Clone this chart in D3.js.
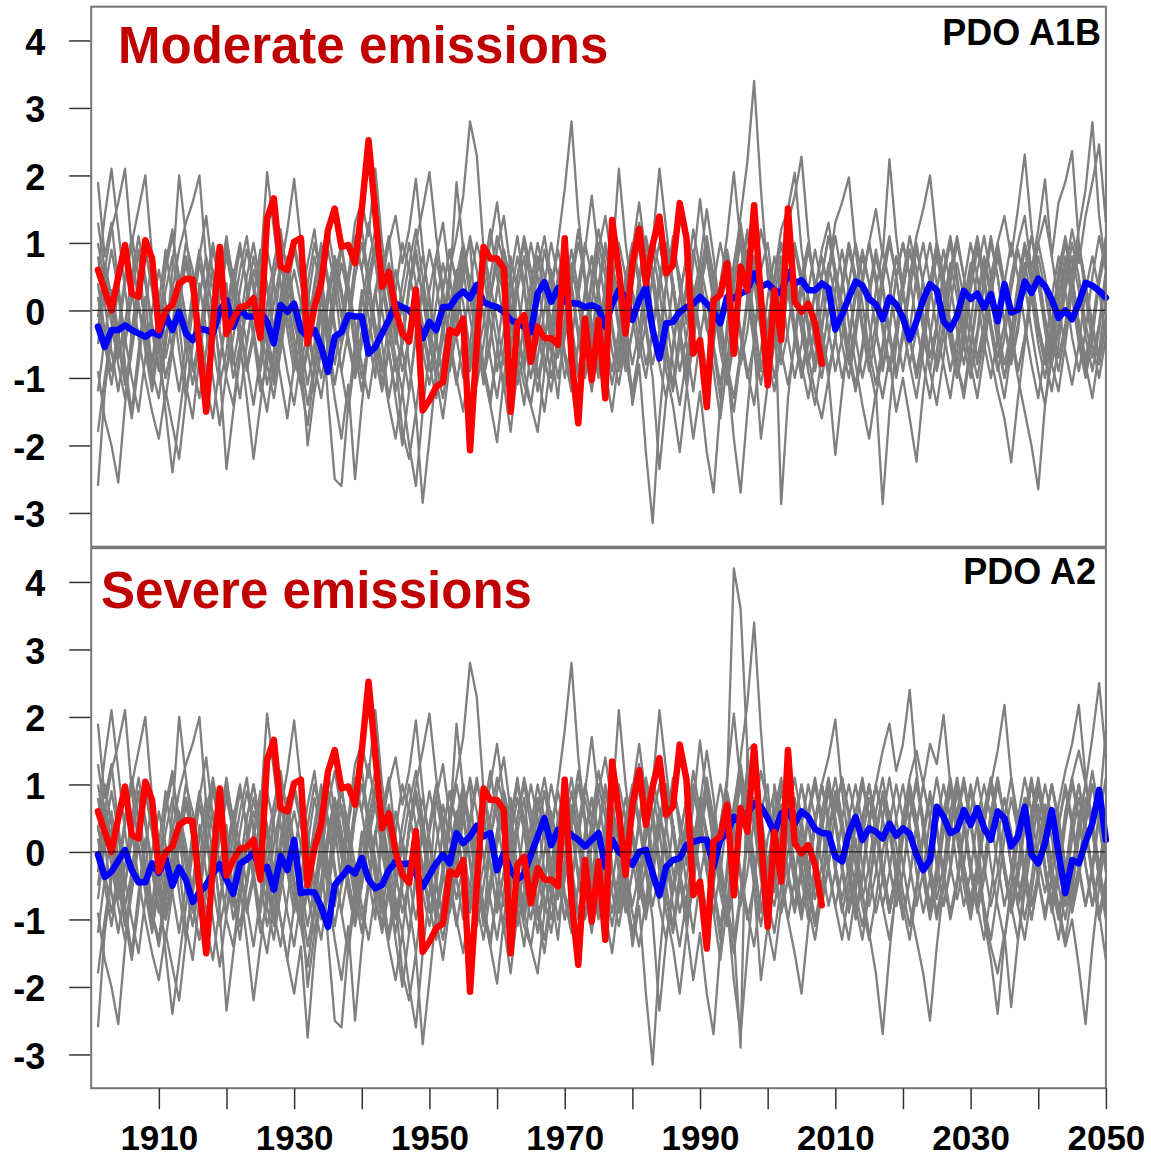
<!DOCTYPE html>
<html><head><meta charset="utf-8">
<script src="https://cdn.jsdelivr.net/npm/d3@7"></script>
<style>body{margin:0;background:#fff}svg text{font-family:"Liberation Sans",Arial,sans-serif;font-weight:bold}</style>
</head><body><svg id="c" width="1151" height="1158"></svg>
<script>
// ---------- DATA ----------
const firstYear = 1901;
const xTicks = [1910,1920,1930,1940,1950,1960,1970,1980,1990,2000,2010,2020,2030,2040,2050];
const xTickLabels = ["1910","","1930","","1950","","1970","","1990","","2010","","2030","","2050"];
const yTicks = [-3,-2,-1,0,1,2,3,4];

// observed PDO index, 1901-2008 (red)
const observedPDO = [
 0.60,0.30,0.0,0.5,0.97,0.25,0.2,1.04,0.77,-0.29,
 0.0,0.08,0.4,0.47,0.46,-0.54,-1.50,-0.2,0.94,-0.35,
 -0.12,0.05,0.07,0.18,-0.41,1.36,1.66,0.65,0.6,1.02,
 1.07,-0.49,0.05,0.4,1.19,1.51,0.94,0.97,0.70,1.5,
 2.52,1.44,0.35,0.57,0.0,-0.34,-0.46,0.31,-1.48,-1.33,
 -1.13,-1.06,-0.29,-0.34,-0.12,-2.07,-0.5,0.94,0.77,0.77,
 0.62,-1.50,-0.19,-0.07,-0.76,-0.24,-0.41,-0.41,-0.51,1.07,
 -0.7,-1.67,-0.12,-1.03,-0.14,-1.30,1.34,0.6,-0.34,0.7,
 1.21,0.4,0.97,1.39,0.55,0.67,1.59,1.07,-0.64,-0.44,
 -1.43,0.15,0.23,0.7,-0.64,0.65,0.3,1.56,0.2,-1.11,
 0.3,-0.44,1.51,0.13,-0.02,0.1,-0.19,-0.79];

// ensemble means 1901-2050 (blue)
const meanA1B = [
 -0.24,-0.54,-0.29,-0.29,-0.22,-0.29,-0.34,-0.39,-0.32,-0.37,
 -0.07,-0.29,-0.02,-0.34,-0.44,-0.27,-0.29,-0.34,0.0,0.15,
 -0.24,0.03,-0.09,-0.09,-0.02,-0.17,-0.49,0.08,-0.02,0.1,
 -0.29,-0.39,-0.29,-0.54,-0.91,-0.39,-0.32,-0.07,-0.09,-0.09,
 -0.64,-0.54,-0.34,-0.14,0.1,0.05,0.0,-0.12,-0.41,-0.17,
 -0.29,0.05,0.05,0.2,0.28,0.18,0.38,0.12,0.08,0.05,
 -0.02,-0.14,-0.19,-0.24,-0.32,0.25,0.42,0.13,0.33,0.13,
 0.11,0.1,0.05,0.08,0.03,-0.24,0.1,0.3,0.2,-0.14,
 0.15,0.35,-0.29,-0.71,-0.19,-0.17,-0.02,0.05,0.1,0.2,
 0.1,-0.02,-0.19,0.2,0.18,0.25,0.3,0.55,0.35,0.4,
 0.3,0.25,0.57,0.4,0.45,0.3,0.3,0.4,0.33,-0.28,
 -0.06,0.19,0.43,0.37,0.17,0.09,-0.13,0.19,0.09,-0.11,
 -0.43,-0.16,0.16,0.39,0.30,-0.16,-0.28,-0.08,0.29,0.17,
 0.25,0.04,0.24,-0.16,0.39,-0.03,0.01,0.43,0.26,0.47,
 0.36,0.16,-0.11,0.0,-0.13,0.11,0.41,0.37,0.29,0.19];
const meanA2 = [
 -0.04,-0.37,-0.29,-0.13,0.03,-0.27,-0.45,-0.45,-0.17,-0.31,
 -0.11,-0.50,-0.23,-0.41,-0.74,-0.60,-0.49,-0.32,-0.18,-0.41,
 -0.62,-0.17,-0.11,-0.01,-0.27,-0.22,-0.56,-0.06,-0.27,0.18,
 -0.61,-0.59,-0.60,-0.81,-1.11,-0.49,-0.37,-0.24,-0.32,-0.09,
 -0.41,-0.54,-0.49,-0.27,-0.14,-0.18,-0.17,-0.32,-0.52,-0.34,
 -0.17,-0.04,-0.17,0.28,0.13,0.23,0.39,0.23,0.28,-0.27,
 -0.02,-0.27,-0.41,-0.32,-0.04,0.23,0.50,0.10,0.33,0.34,
 0.25,0.18,0.08,0.18,0.28,-0.22,0.18,0.0,-0.08,-0.19,
 0.0,0.03,-0.32,-0.64,-0.22,-0.12,-0.09,0.10,0.15,0.18,
 0.18,-0.22,0.18,0.28,0.52,0.43,0.57,0.72,0.67,0.50,
 0.28,0.57,0.61,0.42,0.60,0.52,0.34,0.28,0.27,-0.07,
 -0.14,0.28,0.52,0.18,0.35,0.30,0.20,0.42,0.24,0.35,
 0.27,-0.04,-0.27,-0.12,0.67,0.52,0.28,0.33,0.62,0.40,
 0.65,0.35,0.18,0.60,0.50,0.08,0.23,0.67,-0.04,-0.17,
 0.13,0.62,-0.02,-0.61,-0.12,-0.17,0.15,0.42,0.92,0.18];

// model runs, 20th century part 1901-2000 (gray)
const histRuns = [
 [-2.6,-1.2,-0.4,0.3,-0.8,-1.5,-0.6,0.2,-0.9,-1.3, -0.5,0.4,-0.2,-1.1,-1.6,-0.7,0.1,0.6,-0.3,-1.0, -1.4,-0.6,0.2,-0.4,-1.2,-0.8,0.5,0.9,-0.1,-0.7, -1.1,-1.7,-0.9,0.0,-1.3,-2.5,-2.6,-1.4,-0.5,0.3, -0.4,-1.0,0.6,1.1,0.2,-0.6,-1.2,-0.3,0.4,-0.5, 0.8,1.3,0.5,-0.2,0.7,1.0,-0.4,-1.1,0.2,0.9, 1.4,0.6,-0.3,-0.9,0.1,0.8,0.3,-0.6,-1.3,-0.2, 0.5,1.2,0.4,-0.5,-1.0,0.3,1.1,0.6,-0.2,-1.4, -0.8,-2.1,-3.15,-1.6,-0.5,0.4,-0.3,-1.0,0.2,0.7, 1.5,0.8,-0.1,-0.8,0.3,1.2,0.5,-0.4,0.6,1.0],
 [1.9,0.8,1.3,0.4,-0.5,0.2,0.9,-0.3,-1.1,-0.4, 0.7,1.2,0.3,-0.6,0.1,0.8,1.4,0.5,-0.2,0.4, -0.7,-1.3,-0.5,0.2,0.9,0.3,-0.4,-1.0,-1.6,-0.8, 0.1,0.7,1.2,0.4,-0.3,0.5,1.0,0.2,-0.6,-1.2, -0.4,0.3,-0.5,-1.3,-0.7,-1.8,-2.2,-1.5,-2.85,-1.9, -0.9,-0.2,0.6,1.1,1.7,2.8,2.3,0.9,0.1,-0.5, -1.2,-0.6,0.3,0.8,-0.1,-0.9,-1.5,-0.7,0.2,0.6, -0.3,-1.0,-0.4,0.5,1.2,0.7,-0.2,-0.8,0.1,0.9, 1.6,0.8,-0.1,-0.7,0.4,1.1,0.3,-0.5,-1.2,-0.4, 0.2,-0.6,-1.3,-0.2,0.7,1.3,0.6,-0.1,-0.9,-0.3],
 [-0.9,-1.6,-2.0,-2.55,-1.4,-0.3,0.5,-0.2,-0.8,0.1, 0.9,0.2,-0.6,-1.3,-0.5,0.4,-0.3,-1.0,-1.7,-0.9, 0.0,0.6,1.1,0.3,-0.4,-1.1,-0.6,0.2,0.8,0.1, -0.7,-1.4,-0.8,0.3,0.9,0.4,-0.5,-0.1,0.7,1.2, 0.5,-0.3,-0.9,-0.2,0.6,0.1,-0.8,-1.5,-0.6,0.3, 0.8,0.2,-0.5,-1.1,-0.4,0.4,1.0,0.6,-0.2,-0.9, -0.3,0.5,1.1,0.4,-0.6,-1.2,-0.5,0.3,1.0,1.8, 2.8,1.4,0.5,-0.3,-0.9,-0.2,0.6,0.1,-0.7,-1.3, -0.6,0.2,0.9,0.3,-0.5,-1.1,-0.3,0.4,1.2,0.6, -0.2,-0.9,-1.6,-0.8,-1.9,-2.7,-1.5,-0.4,0.3,-0.6],
 [0.5,1.4,2.1,1.2,0.3,-0.4,0.2,0.9,0.4,-0.3, -1.0,-0.5,0.3,1.0,0.6,-0.2,-0.9,-0.4,0.5,1.1, 0.4,-0.3,-0.8,-1.4,-0.7,0.1,0.7,1.2,0.5,-0.2, -0.6,0.1,0.8,0.3,-0.4,-1.1,-0.5,0.4,1.0,0.6, 1.3,0.7,0.0,-0.6,-1.2,-0.5,0.3,0.9,0.2,-0.4, -1.0,-1.6,-0.8,0.1,0.6,-0.1,-0.7,-0.2,0.5,1.1, 0.7,-0.1,-0.8,-1.4,-0.6,0.2,0.9,0.4,-0.3,-1.0, -0.5,0.4,1.0,0.5,-0.2,-0.9,-1.5,-0.7,0.1,0.8, 1.3,0.6,-0.2,0.3,1.0,0.4,-0.4,-1.1,-1.9,-1.2, -2.1,-2.7,-1.4,-0.3,0.6,1.4,2.2,3.4,1.8,0.5],
 [-0.3,0.6,1.2,1.6,2.1,0.9,0.1,-0.6,-1.2,-0.5, -1.5,-2.4,-1.6,-0.8,0.0,0.7,0.2,-0.5,-1.1,-0.6, 0.3,0.9,0.4,-0.3,-0.9,-0.2,0.5,1.1,0.6,0.0, -0.8,-0.3,0.4,1.0,0.5,-0.2,-0.9,-1.5,-0.7,0.1, 0.7,1.2,0.5,-0.1,-0.7,-1.2,-0.4,0.3,0.8,0.2, -0.4,-1.0,-0.3,0.5,1.0,0.4,-0.3,-0.9,-1.4,-0.6, 0.2,0.8,0.3,-0.5,-1.0,-0.4,0.4,1.0,0.5,-0.1, -0.7,-1.3,-0.6,0.1,0.9,1.4,0.7,2.1,1.0,0.2, -0.5,-1.0,-0.3,0.4,0.9,0.3,-0.4,-1.1,-0.5,0.3, 0.8,0.2,-0.4,-1.0,-0.3,0.5,1.1,0.6,-0.1,-0.7],
 [0.2,-0.5,-1.1,-0.4,0.4,1.0,1.5,2.0,0.8,-0.1, -0.7,-0.2,0.5,-0.1,-0.8,-1.3,-0.6,0.2,-0.9,-2.35, -1.5,-0.7,0.1,0.6,0.2,-0.5,-1.0,-0.4,0.3,0.9, 0.4,-0.3,-0.9,-0.4,0.3,0.8,0.3,-0.4,-1.0,-0.5, 0.2,-0.4,-1.1,-0.5,0.3,1.0,0.6,0.0,-0.6,-1.1, -0.5,0.3,0.9,0.4,-0.3,-0.8,-0.2,0.6,1.2,0.5, -0.2,-0.9,-0.4,0.4,1.0,0.5,-0.3,-1.0,-0.5,0.3, 0.9,0.3,-0.4,-1.1,-0.6,0.1,0.7,0.2,-0.5,-1.2, -0.6,0.3,1.0,2.1,1.2,0.4,-0.3,-0.8,-0.2,0.5, 1.1,0.5,-0.2,-0.9,-1.5,-0.7,0.1,0.8,0.3,-0.4],
 [-1.2,-0.4,0.3,-0.3,-1.0,-1.6,-0.8,0.1,0.7,0.2, -0.5,0.6,2.0,1.1,0.3,-0.4,-1.0,-0.5,0.2,0.8, 0.3,-0.5,-1.3,-2.2,-1.4,-0.6,0.1,0.7,0.2,-0.4, -1.0,-0.5,0.3,0.9,0.4,-0.3,-0.9,-0.3,0.5,1.0, 0.4,-0.2,-0.8,-1.4,-1.9,-1.2,-2.0,-2.6,-1.5,-0.6, 0.1,0.7,0.2,-0.4,-1.0,-0.5,0.3,0.9,0.4,-0.2, -0.8,-0.3,0.5,1.1,0.6,-0.1,-0.7,-1.2,-0.5,0.2, 0.7,0.1,-0.6,-1.2,-0.4,0.4,1.0,0.5,-0.2,-0.8, -0.3,0.5,1.1,0.6,-0.1,-0.8,-1.4,-0.7,0.0,0.7, 0.2,-0.5,-1.1,-0.4,0.4,1.0,0.4,-0.3,-0.9,-0.2],
 [0.8,0.1,-0.6,-1.2,-0.5,0.3,0.9,0.4,-0.3,-0.9, -0.4,0.3,0.9,1.3,1.6,2.0,0.7,-0.1,-0.7,-0.2, 0.5,1.0,0.3,-0.4,-1.0,-1.5,-0.7,0.0,0.6,0.1, -0.5,-1.1,-0.5,0.2,-0.6,-1.3,-1.9,-1.1,-2.5,-1.4, -0.5,0.3,0.8,0.2,-0.5,0.1,0.7,1.2,0.5,-0.2, -0.8,-1.3,-0.6,0.2,0.8,0.3,-0.4,-1.0,-0.5,0.3, 0.9,0.4,-0.3,-0.8,-0.2,0.6,1.1,0.5,-0.2,-0.7, -1.2,-0.5,0.3,0.8,0.2,-0.5,-1.1,-0.5,0.3,0.9, 0.4,-0.3,-1.0,-2.35,-1.3,-0.5,0.2,0.8,0.3,-0.4, -1.0,-0.4,0.3,0.9,0.4,-0.3,-0.9,-1.4,-0.6,0.2],
 [-0.5,0.3,0.9,0.3,-0.4,-1.0,-1.5,-0.7,0.0,0.6, 0.1,-0.6,-1.2,-0.5,0.3,0.9,0.3,-0.3,0.4,1.0, 0.5,-0.2,-0.8,-0.3,0.6,2.05,1.2,0.4,-0.3,-0.9, -0.4,0.4,1.0,0.5,-0.2,-0.8,-0.2,0.5,1.1,0.6, -0.1,-0.7,-1.2,-0.6,-1.3,-2.0,-1.2,-0.4,0.3,0.9, 0.4,-0.3,-0.9,-0.3,0.5,1.1,0.6,-0.1,-0.7,-1.3, -0.6,0.2,0.8,0.3,-0.4,-1.0,-0.5,0.3,0.9,0.4, -0.2,-0.9,-0.4,0.4,1.0,0.5,-0.3,-0.9,-0.4,0.4, 1.0,0.5,-0.2,-0.8,-1.3,-0.6,0.2,0.8,0.3,-0.3, -0.9,-0.4,0.4,1.1,2.05,1.0,0.2,-0.5,-1.1,-0.5],
 [1.3,0.6,0.0,-0.7,-0.2,0.5,1.1,0.5,-0.2,-0.8, -1.3,-0.6,0.1,0.7,0.2,-0.5,-1.1,-1.6,-0.8,0.0, 0.6,0.1,-0.5,0.2,0.8,0.4,-0.3,0.6,1.2,1.95, 1.0,0.3,-0.4,-1.0,-0.5,0.3,0.9,0.4,-0.2,-0.8, -1.3,-0.6,0.1,0.7,0.2,-0.5,0.4,1.0,1.5,2.05, 1.1,0.3,-0.4,-1.0,-1.5,-0.7,-0.1,-0.8,-1.4,-1.95, -1.0,-0.2,0.5,1.0,0.4,-0.3,-0.9,-0.4,0.3,0.8, 0.3,-0.4,-1.0,-0.5,0.3,0.9,0.4,-0.3,-0.9,-0.3, 0.5,1.1,0.6,-0.1,-0.7,-1.2,-0.5,0.3,0.9,0.4, -0.3,0.4,1.0,0.5,-0.2,-0.8,-0.3,0.5,1.2,0.7],
 [-1.8,-1.0,-0.3,0.4,0.9,0.3,-0.4,-1.0,-1.5,-1.9, -1.2,-1.7,-2.2,-1.3,-0.5,0.2,0.8,0.3,-0.3,-0.9, -0.4,0.3,0.9,0.4,-0.2,-0.8,-1.3,-0.6,0.1,-0.5, -1.1,-0.6,0.1,0.7,1.2,0.6,-0.1,0.5,1.3,1.6, 1.1,2.1,1.0,0.3,-0.3,-0.9,-0.4,0.4,-0.2,-0.8, -1.3,-0.7,0.0,0.6,0.1,-0.6,-1.1,-0.5,0.2,0.7, 0.2,-0.5,-1.1,-0.6,0.2,0.8,0.3,-0.4,-1.0,-0.4, 0.4,1.0,0.5,-0.2,-0.8,-0.3,0.4,1.0,0.5,-0.1, -0.7,-0.2,0.5,1.0,0.4,-0.3,-0.9,-0.4,0.3,-0.4, -1.0,-0.5,0.3,0.8,0.3,-0.4,-1.0,-0.5,-1.9,-1.1],
 [0.4,-0.3,-0.9,-0.3,0.5,1.1,0.5,-0.2,-0.8,-0.2, 0.6,1.1,0.5,-0.2,-0.9,-0.4,0.4,1.0,0.4,-0.3, -1.0,-0.5,0.2,0.8,0.2,-0.5,-1.1,-0.6,0.1,0.6, 0.1,-0.6,-1.2,-0.6,0.1,0.7,0.2,-0.5,-1.0,-0.4, 0.3,0.9,0.4,1.0,1.4,0.7,1.2,1.95,0.9,0.1, -0.5,-1.0,-0.4,0.3,0.9,0.4,-0.3,-0.8,-1.3,-0.6, -1.1,-1.8,-0.9,-0.2,0.4,1.0,0.5,-0.2,-0.7,-0.1, 0.6,0.2,0.9,1.7,0.8,0.1,-0.6,-1.1,-0.5,0.3, -0.2,-0.8,-0.3,0.5,1.0,0.4,-0.3,-0.9,-0.4,0.4, 1.0,0.5,-0.2,-0.8,-1.3,-0.6,0.2,0.8,0.3,-0.3],
 [-0.1,0.7,0.2,-0.5,-1.1,-0.5,0.3,0.9,0.3,-0.4, -1.0,-0.5,0.2,0.8,0.3,-0.4,-1.0,-0.4,0.3,0.9, 0.4,-0.3,-0.9,-0.4,0.3,0.9,0.4,-0.3,-0.9,-1.4, -0.7,-2.0,-1.2,-0.5,0.2,0.8,0.3,-0.4,-0.9,-0.3, 0.5,1.0,0.4,-0.3,-0.9,-0.4,0.3,0.8,0.2,-0.5, -1.0,-0.4,0.4,1.9,0.9,0.2,-0.5,-1.0,-0.4,0.3, 0.9,0.4,-0.3,-0.9,-1.4,-0.7,0.0,0.6,0.1,-0.6, -1.1,-0.5,0.2,0.8,0.3,-0.4,-0.9,-0.3,0.5,1.0, 0.5,-0.2,-0.8,-0.3,0.4,1.0,0.5,-0.2,0.7,1.65, 0.8,0.1,-0.6,-1.1,-0.5,0.3,0.9,0.4,-0.3,-0.9],
 [1.0,0.4,-0.2,-0.8,-1.3,-0.6,0.1,-0.5,-1.0,-0.4, 0.3,0.8,0.2,-0.5,-1.1,-0.5,0.3,0.9,0.4,-0.3, -0.8,-0.2,0.5,1.0,0.4,-0.3,-0.9,-0.3,0.4,1.0, 0.5,-0.2,-0.8,-1.3,-0.6,0.1,0.7,0.2,-0.4,-1.0, -0.5,0.2,0.8,0.3,-0.3,0.4,1.0,0.4,-0.3,-0.9, -0.4,0.3,0.9,0.4,-0.3,-0.9,-0.3,0.5,1.0,1.6, 0.8,0.1,-0.6,-1.1,-1.4,-1.8,-0.9,-0.2,0.5,1.0, 0.4,-0.3,-0.9,-0.4,0.4,1.0,0.5,-0.2,-0.8,-0.3, 0.4,1.0,0.4,-0.3,-0.9,-1.4,-2.1,-1.2,-0.4,0.3, 0.9,0.4,-0.3,-0.8,-0.2,0.6,1.2,0.6,-0.1,-0.7]
];
// two extra 20th-century runs only in the A2 ensemble
const a2ExtraHist = [
 [-0.7,0.1,0.6,-0.1,-0.8,-0.3,0.5,1.0,0.3,-0.4, -0.9,-0.3,0.4,-0.2,-0.8,-1.3,-0.6,0.2,0.7,0.1, -0.6,-1.1,-0.4,0.3,0.8,0.2,-0.5,-1.0,-1.6,-2.1, -1.4,-2.75,-1.5,-0.6,0.1,0.6,0.1,-0.6,-1.1,-0.5, 0.2,0.7,0.2,-0.5,-1.0,-0.4,0.3,0.9,0.4,-0.3, -0.8,-0.3,0.4,1.0,0.5,-0.2,-0.8,-1.3,-0.6,0.1, 0.7,0.2,-0.5,-1.0,-0.4,0.3,0.9,0.3,-0.4,-1.0, -0.5,0.3,0.8,0.3,-0.4,-1.0,-0.5,0.2,0.8,0.3, -0.3,-0.9,-0.4,0.4,0.9,0.3,-0.4,-0.9,0.1,0.8, 0.3,-0.3,0.4,1.0,4.2,3.6,1.5,0.4,-0.4,-1.0],
 [0.3,1.0,0.4,-0.3,0.5,1.1,0.4,-0.3,-0.9,-1.4, -0.7,0.0,0.6,0.1,-0.6,-0.1,0.6,1.1,0.5,-0.2, -0.7,-0.2,0.5,1.0,0.4,-0.3,-0.9,-1.4,-0.7,0.0, 0.6,0.1,-0.6,-0.1,0.7,1.2,0.6,-0.1,-0.7,-0.2, 0.5,-0.1,-0.7,-1.2,-0.5,0.2,-0.4,-1.0,-0.4,0.4, 1.0,0.5,-0.2,-0.7,-0.2,0.5,1.1,0.5,-0.2,-0.8, -0.3,0.4,1.0,0.5,-0.2,-0.8,-1.3,-0.6,0.1,0.6, 1.1,0.5,-0.2,-0.8,-0.3,0.4,1.0,0.4,-0.3,-0.9, -1.4,-0.7,0.0,0.6,0.1,-0.6,-0.1,0.5,1.0,0.4, -0.3,-0.9,-0.3,0.5,-1.2,-2.9,1.5,1.6,0.6,-0.2]
];
// scenario continuations 2001-2050
const futA1B = [
 [0.2,-2.87,-1.3,-0.4,0.5,1.0,0.4,-0.3,-0.9,-0.4, 0.4,1.0,0.5,-0.2,-0.8,-1.3,-0.6,0.2,0.8,0.3, -0.4,-1.0,-0.5,0.3,0.9,0.4,-0.3,-0.8,-0.2,0.6, 1.1,0.5,-0.2,-0.7,-0.2,0.5,1.0,1.4,0.6,1.2, 1.94,0.8,0.1,-0.6,-1.1,-0.5,0.3,0.8,0.3,-0.4],
 [0.5,1.2,1.5,2.04,0.9,0.2,-0.5,-1.0,-0.4,0.3, 0.9,0.3,-0.4,-1.0,-0.5,0.3,0.9,0.4,-0.3,-0.9, -0.3,0.5,1.0,0.4,-0.3,-0.8,-1.3,-0.6,0.1,0.7, 0.2,-0.5,-1.0,-0.4,0.4,1.0,0.5,-0.2,-0.8,-1.3, -0.6,0.2,0.8,0.3,-0.4,-0.9,-0.3,0.5,1.1,0.6],
 [-0.1,0.6,1.3,1.7,2.28,1.1,0.3,-0.4,-1.0,-0.4, 0.3,0.9,0.4,-0.3,-0.9,-0.4,0.4,1.0,0.5,-0.2, -0.8,-1.3,-0.6,0.2,0.8,0.3,-0.4,-1.0,-0.5,0.3, 0.9,0.4,-0.3,-0.9,-0.4,0.3,0.9,0.4,-0.3,-0.9, -1.4,-0.7,0.1,0.7,0.2,-0.5,-1.0,-0.4,0.4,0.9],
 [-0.2,-0.8,-0.3,0.5,0.0,-0.7,-1.2,-1.6,-1.0,-2.14, -1.2,-0.4,0.3,0.9,0.4,-0.3,-0.9,-0.3,0.5,1.0, 0.5,-0.2,-0.8,-1.3,-0.6,0.1,0.7,0.2,-0.5,-1.0, -0.4,0.4,1.0,0.5,-0.2,-0.8,-0.3,0.5,1.1,0.6, -0.1,-0.7,-0.2,0.6,1.2,0.7,1.4,1.9,2.46,1.3],
 [-1.2,-0.5,0.3,0.9,0.4,-0.3,-0.9,-0.3,0.6,1.3, 1.6,1.97,0.9,0.1,-0.6,-1.1,-0.5,0.2,0.8,0.3, -0.4,-1.0,-0.4,0.4,1.0,0.5,-0.2,-0.8,-1.2,-0.5, 0.2,0.8,0.3,-0.4,-1.0,-0.5,0.3,0.9,0.4,-0.3, -0.8,-0.3,0.5,1.0,0.5,-0.2,-0.8,-0.3,0.4,1.0],
 [-1.0,-0.4,0.4,1.0,0.5,-0.2,-0.8,-0.3,0.5,1.1, 0.5,-0.2,-0.8,-1.4,-1.9,-1.2,-2.87,-1.5,-0.5,0.3, 0.9,0.4,-0.3,-0.9,-0.3,0.5,1.0,0.4,-0.3,-0.8, -0.3,0.5,1.1,0.5,-0.2,-0.7,-0.2,0.6,1.1,0.5, -0.2,-0.8,-1.2,-0.5,0.3,0.9,0.4,-0.3,-0.8,-0.2],
 [0.5,1.0,0.4,-0.3,-0.9,-0.4,0.3,0.9,1.3,0.6, -0.1,-0.7,-0.2,0.5,1.0,1.5,0.8,2.24,1.1,0.3, -0.4,-0.9,-0.3,0.4,1.0,0.5,-0.2,-0.8,-1.3,-0.6, 0.1,0.7,0.2,-0.5,-1.0,-0.4,0.4,1.0,0.5,-0.2, -0.7,-0.2,0.6,1.1,0.5,-0.2,-0.7,-0.2,0.5,1.1],
 [0.8,0.3,-0.4,-1.0,-0.5,0.3,0.9,0.4,-0.3,-0.9, -0.4,0.4,1.0,0.5,-0.2,-0.8,-1.3,-0.7,-1.5,-1.0, -1.6,-2.24,-1.2,-0.4,0.3,0.9,0.4,-0.3,-0.8,-0.2, 0.6,1.1,0.5,-0.2,-0.8,-0.3,0.4,1.0,0.5,-0.2, -0.7,-1.2,-0.5,0.3,0.8,0.3,-0.4,-0.9,-0.3,0.5],
 [0.2,0.8,0.3,-0.4,-1.0,-0.5,0.3,0.8,0.3,-0.4, -1.0,-0.5,0.2,0.8,0.4,-0.3,-0.8,-0.3,0.5,1.0, 0.5,1.1,1.5,2.0,1.0,0.2,-0.5,-1.0,-0.4,0.4, 1.0,0.5,-0.2,-0.8,-1.3,-0.6,0.1,0.7,0.2,-0.5, -1.0,-0.4,0.4,1.0,0.5,-0.2,-0.8,-1.3,-0.6,0.2],
 [0.1,-0.6,-1.1,-0.5,0.3,0.9,0.4,-0.3,-0.9,-0.4, 0.4,1.0,0.5,-0.2,-0.7,-0.2,0.6,1.1,0.5,-0.2, -0.8,-0.3,0.5,1.0,0.4,-0.3,-0.9,-0.4,0.4,1.0, 0.5,-0.2,-0.7,-1.2,-1.6,-2.25,-1.3,-0.5,0.2,0.8, 0.3,-0.4,-0.9,-0.3,0.5,1.0,0.4,-0.2,-0.7,-0.1],
 [-0.5,0.3,0.9,0.4,-0.3,-0.8,-0.2,0.5,1.1,0.6, -0.1,-0.7,-1.2,-0.6,0.2,0.8,0.3,-0.4,-1.0,-0.4, 0.3,0.9,0.4,-0.3,-0.9,-0.4,0.4,1.0,0.5,-0.2, -0.7,-0.2,0.5,1.0,1.4,0.8,1.5,2.31,1.2,0.4, -0.3,-0.8,-0.3,0.4,1.0,0.5,-0.2,-0.7,-0.2,0.6],
 [0.4,1.0,0.5,-0.2,-0.8,-1.3,-0.7,0.1,0.7,0.2, -0.5,-1.0,-0.4,0.4,1.0,0.5,-0.2,-0.8,-0.3,0.5, 1.1,0.6,-0.1,-0.7,-0.2,0.6,1.1,0.5,-0.2,-0.8, -1.3,-0.6,0.2,0.8,0.3,-0.4,-1.0,-1.5,-2.0,-2.65, -1.4,-0.5,0.2,0.8,0.3,-0.4,-0.9,-0.3,0.5,1.0],
 [-0.4,0.3,0.9,0.4,-0.3,-0.9,-1.4,-0.7,0.0,0.6, 0.1,-0.6,-1.1,-0.5,0.3,0.9,0.4,-0.3,-0.9,-0.3, 0.5,1.0,0.4,-0.3,-0.8,-0.2,0.6,1.1,0.5,-0.2, -0.8,-0.3,0.5,1.0,0.4,-0.3,-0.9,-0.4,0.4,1.0, 1.4,0.8,1.6,1.9,2.36,1.0,0.2,-0.5,-1.0,-0.4],
 [-0.2,0.5,1.0,0.5,-0.2,-0.8,-0.3,0.5,1.1,0.5, -0.2,-0.8,-0.3,0.4,1.0,0.4,-0.3,-0.9,-0.4,0.3, 0.9,0.4,-0.3,-0.9,-1.4,-0.7,0.1,0.7,0.2,-0.5, -1.0,-0.4,0.4,0.9,0.4,-0.3,-0.9,-0.4,0.4,1.0, 0.5,-0.2,-0.7,-0.2,0.6,1.2,1.8,2.79,1.4,0.6]
];
const futA2 = [
 [-0.3,-0.9,-0.4,0.4,1.0,0.5,-0.2,-0.7,-0.2,0.6, 1.1,0.5,-0.2,-0.8,-1.3,-0.7,0.0,0.6,0.1,-0.6, -1.1,-0.5,0.3,0.9,0.4,-0.3,-0.9,-0.4,0.4,1.0, 0.5,-0.2,-0.8,-0.3,0.5,1.1,0.5,-0.2,-0.8,-0.3, 0.5,1.0,0.4,-0.3,-0.9,-0.4,0.4,1.0,0.5,-0.2],
 [0.4,-0.3,-1.0,-1.5,-2.1,-1.1,-0.3,0.4,1.0,0.5, -0.2,-0.8,-0.3,0.5,1.0,0.4,-0.3,-0.9,-0.3,0.5, 1.0,0.4,-0.3,-0.8,-0.2,0.6,1.1,0.5,-0.2,-0.7, -0.2,0.6,1.1,0.5,-0.2,-0.8,-1.3,-0.6,0.1,0.7, 0.2,-0.5,-1.0,-0.4,0.4,1.0,0.4,-0.3,-0.9,-1.6],
 [0.1,0.7,0.2,-0.5,-1.0,-0.4,0.4,1.0,1.4,1.96, 0.9,0.1,-0.6,-1.1,-0.5,0.3,0.9,0.4,-0.3,-0.9, -0.4,0.4,1.0,0.5,-0.2,-0.8,-0.2,0.6,1.1,0.5, -0.2,-0.8,-1.3,-0.6,0.2,0.8,0.3,-0.4,-1.0,-0.4, 0.4,1.0,0.5,-0.2,-0.7,-0.2,0.6,1.2,0.6,1.8],
 [0.9,0.3,-0.4,-0.9,-0.3,0.5,1.0,0.4,-0.3,-0.8, -1.3,-0.6,0.2,-0.6,-1.2,-1.8,-2.7,-1.5,-0.5,0.3, 0.9,0.4,-0.3,-0.9,-0.4,0.4,1.0,0.5,-0.2,-0.7, -0.2,0.6,1.1,0.5,-0.2,-0.8,-0.3,0.5,1.0,0.4, -0.3,-0.9,-0.4,0.4,1.0,0.5,-0.2,-0.8,-0.3,0.5],
 [-1.2,-0.5,0.3,0.8,0.3,-0.4,-1.0,-0.5,0.3,0.9, 0.4,-0.3,-0.9,-0.3,0.5,1.0,1.5,1.9,1.2,1.6, 2.4,1.2,0.3,-0.4,-1.0,-0.5,0.3,0.9,0.4,-0.3, -0.9,-0.4,0.4,1.0,0.5,-0.2,-0.8,-1.3,-0.6,0.1, 0.7,0.2,-0.5,-1.0,-0.4,0.4,1.0,0.5,-0.2,-0.8],
 [0.2,-0.5,-1.0,-0.4,0.4,1.0,0.5,-0.2,-0.8,-0.3, 0.5,1.0,0.5,-0.2,-0.8,-0.3,0.5,1.1,0.5,-0.2, -0.8,-1.3,-1.8,-2.5,-1.4,-0.5,0.3,0.9,0.4,-0.3, -0.8,-0.2,0.6,1.1,0.5,-0.2,-0.7,-0.2,0.6,1.1, 0.5,-0.2,-0.8,-1.3,-0.6,0.2,0.8,0.3,-0.4,0.3],
 [-0.6,0.2,0.8,0.3,-0.4,-1.0,-0.5,0.3,0.9,0.4, -0.3,-0.9,-0.4,0.4,1.0,0.5,-0.2,-0.8,-0.3,0.5, 1.1,1.5,1.0,1.6,1.3,2.03,1.0,0.2,-0.5,-1.0, -0.4,0.4,1.0,0.4,-0.3,-0.9,-0.4,0.4,1.0,0.5, -0.2,-0.8,-0.3,0.5,1.1,0.5,-0.2,-0.8,-0.2,-0.9],
 [0.6,1.1,0.5,-0.2,-0.8,-0.3,0.5,1.0,0.4,-0.3, -0.9,-0.4,0.4,1.0,0.5,-0.2,-0.8,-1.3,-0.6,0.2, 0.8,0.3,-0.4,-1.0,-0.5,0.3,0.9,0.4,-0.3,-0.8, -0.3,0.5,1.0,1.5,2.18,1.1,0.3,-0.4,-1.0,-0.4, 0.4,1.0,0.5,-0.2,-0.8,-0.3,0.5,1.0,0.4,-0.3],
 [-0.8,-0.2,0.6,1.1,0.5,-0.2,-0.7,-0.2,0.6,1.1, 0.5,-0.2,-0.8,-1.3,-0.6,0.2,0.8,0.3,-0.4,-1.0, -0.4,0.4,1.0,0.5,-0.2,-0.8,-0.3,0.5,1.0,0.4, -0.3,-0.9,-1.4,-1.8,-1.2,-2.3,-1.3,-0.4,0.3,0.9, 0.4,-0.3,-0.9,-0.3,0.5,1.0,0.4,-0.3,-0.9,-0.4],
 [0.3,0.9,0.4,-0.3,-0.9,-0.4,0.4,1.0,0.5,-0.2, -0.7,-0.2,0.6,1.1,0.5,-0.2,-0.8,-0.3,0.5,1.0, 0.4,-0.3,-0.9,-0.4,0.4,1.0,0.5,-0.2,-0.8,-0.3, 0.5,1.0,0.5,-0.2,-0.8,-0.3,0.5,1.1,0.6,-0.1, -0.6,-0.1,0.7,1.2,1.6,2.18,1.1,0.3,-0.4,-1.0],
 [-1.6,-0.8,0.0,0.6,0.1,-0.6,-1.1,-0.5,0.3,0.9, 0.4,-0.3,-0.9,-0.4,0.4,1.0,0.5,-0.2,-0.8,-0.3, 0.5,1.0,0.4,-0.3,-0.9,-0.4,0.4,1.0,0.5,-0.2, -0.7,-0.2,0.6,1.1,0.5,-0.2,-0.8,-0.3,0.5,1.0, 0.4,-0.3,-0.9,-1.4,-1.0,-1.7,-2.55,-1.4,-0.5,0.2],
 [0.0,0.6,1.1,0.5,-0.2,-0.7,-0.2,0.6,1.1,0.5, -0.2,-0.8,-0.3,0.5,1.0,0.4,-0.3,-0.9,-0.4,0.4, 1.0,0.5,-0.2,-0.8,-0.3,0.5,1.0,0.4,-0.3,-0.9, -0.4,0.4,1.0,0.4,-0.3,-0.8,-0.2,0.6,1.1,0.5, -0.2,-0.7,-0.2,0.6,1.1,1.5,1.0,1.7,2.5,1.4],
 [-0.3,-0.9,-0.4,0.4,1.0,0.4,-0.3,-0.8,-0.2,0.6, 1.1,0.6,-0.1,-0.7,-0.2,0.6,1.1,0.5,-0.2,-0.8, -1.3,-0.6,0.2,0.8,0.3,-0.4,-1.0,-0.5,0.3,0.9, 0.4,-1.0,-1.6,-2.4,-1.3,-0.5,0.2,0.8,0.3,-0.4, -0.9,-0.4,0.4,1.0,0.5,-0.2,-0.8,-0.3,0.5,1.1],
 [1.0,0.4,-0.3,-0.8,-0.2,0.6,1.1,0.5,-0.2,-0.8, -0.3,0.5,1.0,0.4,-0.3,-0.9,-0.4,0.4,1.0,0.5, -0.2,-0.8,-0.3,0.5,1.1,0.5,-0.2,-0.7,-0.2,0.6, 1.1,0.5,-0.2,-0.8,-1.3,-0.6,0.2,0.8,0.3,-0.4, -1.0,-0.4,0.4,0.9,0.4,-0.3,-0.8,-0.2,0.6,-0.2],
 [-0.4,0.4,1.0,0.5,-0.2,-0.8,-1.3,-0.6,0.2,0.8, 0.3,-0.4,-1.0,-0.4,0.4,1.0,0.5,-0.2,-0.8,-0.3, 0.5,1.1,0.5,-0.2,-0.7,-0.2,0.6,1.1,0.5,-0.2, -0.8,-1.3,-0.6,0.2,0.8,0.3,-0.4,-1.0,-0.4,0.4, 1.0,0.5,-0.2,-0.8,-0.3,0.5,1.0,0.4,-0.3,0.6],
 [0.5,1.0,0.4,-0.3,-0.9,-0.4,0.4,1.0,0.5,-0.2, -0.8,-1.3,-0.6,0.2,0.8,0.3,-0.4,-0.9,-0.3,0.5, 1.0,0.4,-0.3,-0.9,-0.4,0.4,1.0,0.5,-0.2,-0.8, -0.3,0.5,1.0,0.4,-0.3,-0.9,-0.4,0.4,1.0,0.5, -0.2,-0.8,-1.3,-0.6,0.2,0.8,0.3,-0.4,-1.0,-0.5]
];

const panelTitles = ["Moderate emissions", "Severe emissions"];
const panelLabels = ["PDO A1B", "PDO A2"];

// ---------- DRAWING ----------
const svg = d3.select("#c");
const x = d3.scaleLinear().domain([1900, 2050]).range([91.2, 1105.9]);
const panelH = 540;
const panelTops = [6.7, 548.2];

const runsA1B = histRuns.map((h, i) => h.concat(futA1B[i]));
const runsA2 = histRuns.concat(a2ExtraHist).map((h, i) => h.concat(futA2[i]));
const panels = [
  {runs: runsA1B, mean: meanA1B, title: panelTitles[0], label: panelLabels[0],
   titleX: 118, titleY: 63, labelX: 1101, labelY: 45},
  {runs: runsA2, mean: meanA2, title: panelTitles[1], label: panelLabels[1],
   titleX: 101, titleY: 608, labelX: 1096, labelY: 584}
];

panels.forEach((p, pi) => {
  const top = panelTops[pi];
  const y = d3.scaleLinear().domain([-3.5, 4.5]).range([top + panelH, top]);
  const line = d3.line().x((d, i) => x(firstYear + i)).y(d => y(d));
  const g = svg.append("g");

  g.selectAll("path.run").data(p.runs).join("path")
    .attr("class", "run").attr("d", line)
    .attr("fill", "none").attr("stroke", "#7f7f7f").attr("stroke-width", 2.3)
    .attr("stroke-linejoin", "round");

  g.append("path").attr("d", line(p.mean))
    .attr("fill", "none").attr("stroke", "#0000ff").attr("stroke-width", 6.5)
    .attr("stroke-linejoin", "round").attr("stroke-linecap", "round");

  g.append("path").attr("d", line(observedPDO))
    .attr("fill", "none").attr("stroke", "#ff0000").attr("stroke-width", 6.5)
    .attr("stroke-linejoin", "round").attr("stroke-linecap", "round");

  g.append("line").attr("x1", x(1900)).attr("x2", x(2050))
    .attr("y1", y(0)).attr("y2", y(0))
    .attr("stroke", "#000").attr("stroke-opacity", 0.75).attr("stroke-width", 1.3);

  const ya = g.append("g").attr("transform", `translate(${x(1900)},0)`)
    .call(d3.axisLeft(y).tickValues(yTicks).tickSize(22).tickPadding(24)
      .tickFormat(d => String(d)));
  ya.select(".domain").remove();
  ya.selectAll(".tick line").attr("stroke", "#333").attr("stroke-width", 1.5);
  ya.selectAll(".tick text").attr("font-size", 36).attr("fill", "#000")
    .attr("dy", "0.38em")
    .style("font-family", '"Liberation Sans", Arial, sans-serif').style("font-weight", "bold");

  g.append("rect").attr("x", x(1900)).attr("y", top)
    .attr("width", x(2050) - x(1900)).attr("height", panelH)
    .attr("fill", "none").attr("stroke", "#777").attr("stroke-width", 2);

  g.append("text").attr("x", p.titleX).attr("y", p.titleY)
    .attr("font-size", 51).attr("fill", "#c00000").text(p.title);
  g.append("text").attr("x", p.labelX).attr("y", p.labelY)
    .attr("text-anchor", "end").attr("font-size", 36).attr("fill", "#000").text(p.label);

  if (pi === 1) {
    const xa = svg.append("g").attr("transform", `translate(0,${top + panelH})`)
      .call(d3.axisBottom(x).tickValues(xTicks).tickSize(21).tickPadding(0)
        .tickFormat((d, i) => xTickLabels[i]));
    xa.select(".domain").remove();
    xa.selectAll(".tick line").attr("stroke", "#333").attr("stroke-width", 1.5);
    xa.selectAll(".tick text").attr("font-size", 35).attr("fill", "#000")
      .attr("y", 62).attr("dy", null)
      .style("font-family", '"Liberation Sans", Arial, sans-serif').style("font-weight", "bold");
  }
});
</script></body></html>
